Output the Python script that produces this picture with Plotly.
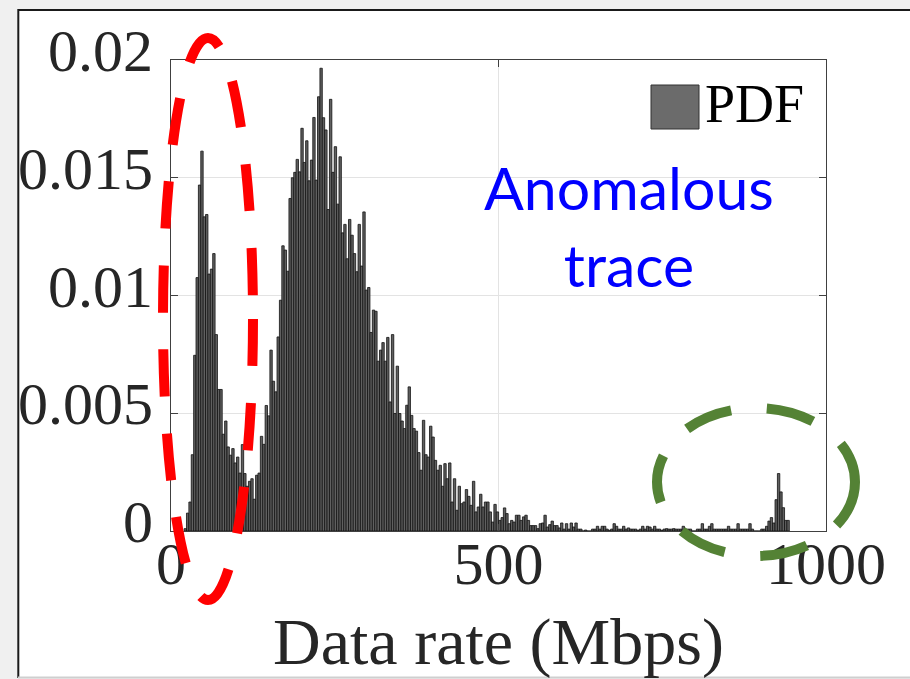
import plotly.graph_objects as go

# ---------------- data ----------------
RATE_START = 20.0   # Mbps, left edge of first bin
RATE_END = 944.0    # Mbps, right edge of last bin

pdf_values = [
    # 20 - 240 Mbps
    0.0001, 0.00076, 0.00123, 0.00324, 0.00746, 0.01076, 0.01469, 0.01613, 0.01334, 0.01344,
    0.01091, 0.01112, 0.01178, 0.00834, 0.00601, 0.00601, 0.00411, 0.00467, 0.00357, 0.00322,
    0.0035, 0.00289, 0.00314, 0.00246, 0.00367, 0.00244, 0.0019, 0.00211, 0.00222, 0.00135,
    0.00237, 0.00246, 0.00402, 0.00368, 0.00533, 0.00489, 0.00768, 0.00636, 0.00591, 0.00824,
    0.0098, 0.01211, 0.01193, 0.01103, 0.01412, 0.015, 0.01523, 0.01578, 0.01525, 0.0171,
    0.01565, 0.01657, 0.01487, 0.01575, 0.01756, 0.0149, 0.01844, 0.01965, 0.01755, 0.01703,
    # 240 - 500 Mbps
    0.01365, 0.01833, 0.01523, 0.01632, 0.01388, 0.01589, 0.01266, 0.01302, 0.01156, 0.01323,
    0.01256, 0.01178, 0.01101, 0.01302, 0.01125, 0.01355, 0.01023, 0.01034, 0.00843, 0.00938,
    0.00933, 0.00721, 0.00768, 0.008, 0.00721, 0.00822, 0.00548, 0.00834, 0.00499, 0.007,
    0.00499, 0.00467, 0.00435, 0.00534, 0.00612, 0.00491, 0.00435, 0.00424, 0.00333, 0.00258,
    0.0047, 0.00324, 0.00314, 0.00445, 0.00399, 0.003, 0.00258, 0.00279, 0.0019, 0.00286,
    0.00222, 0.00289, 0.00123, 0.00222, 0.00088, 0.0019, 0.00116, 0.00123, 0.00176, 0.00147,
    0.00109, 0.00211, 0.00081, 0.00102, 0.00156, 0.00102, 0.00123, 0.00123, 0.00081, 0.00038,
    0.00113, 0.00081,
    # 500 - 750 Mbps
    0.00045, 0.00057, 0.00098, 0.00074, 0.00031, 0.00045, 0.00038, 0.00067, 0.00067, 0.00045,
    0.0006, 0.00067, 0.00045, 0.00023, 0.00023, 0.00023, 0.0001, 0.00031, 0.00034, 0.00067,
    0.00017, 0.00027, 0.00042, 0.00023, 0.00023, 0.00013, 0.00034, 0.00008, 0.00031, 0.00008,
    0.00034, 0.00017, 0.00034, 0.00008, 0.00008, 0.0, 0.00004, 0.0, 0.0, 0.00008,
    0.00008, 0.0002, 0.00008, 0.0002, 0.0002, 0.00008, 0.00003, 0.00008, 0.00031, 0.0002,
    0.00008, 0.00008, 0.0002, 0.00008, 0.00013, 0.00008, 0.00008, 0.00008, 0.00003, 0.00008,
    0.0002, 0.00008, 0.0002, 0.00017, 0.00008, 0.0002, 0.00008,
    # 750 - 944 Mbps
    0.00008, 0.00003, 0.00008, 0.0001, 0.00008, 0.00008, 0.0001, 0.00008, 0.00008, 0.00008,
    0.0002, 0.00008, 0.00008, 0.00008, 0.0, 0.0, 0.00008, 0.00008, 0.00031, 0.00008,
    0.00008, 0.0002, 0.00031, 0.00008, 0.00008, 0.00008, 0.00008, 0.00008, 0.00008, 0.0002,
    0.00008, 0.00008, 0.00008, 0.00031, 0.00008, 0.00008, 0.00008, 0.00008, 0.00031, 0.00008,
    0.0, 0.0, 0.0, 0.00008, 0.00008, 0.0002, 0.00042, 0.00057, 0.00034, 0.00133,
    0.00244, 0.00166, 0.00099, 0.00045, 0.00045,
]

x_tick_vals = [0, 500, 1000]
x_tick_text = ["0", "500", "1000"]
y_tick_vals = [0, 0.005, 0.01, 0.015, 0.02]
y_tick_text = ["0", "0.005", "0.01", "0.015", "0.02"]
x_label = "Data rate (Mbps)"
legend_label = "PDF"
note_text = "Anomalous<br>trace"

# ---------------- figure ----------------
W, H = 910, 679
L, R, T, B = 171, 84, 60, 148
PW, PH = W - L - R, H - T - B


def px_x(px):
    return (px - L) / PW


def px_y(py):
    return (T + PH - py) / PH


n = len(pdf_values)
bin_w = (RATE_END - RATE_START) / n
centers = [RATE_START + (i + 0.5) * bin_w for i in range(n)]

fig = go.Figure(
    go.Bar(
        x=centers,
        y=pdf_values,
        width=bin_w,
        marker=dict(color="#606060", line=dict(color="#111111", width=0.8)),
        showlegend=False,
        hoverinfo="skip",
    )
)

serif = "Liberation Serif, Times New Roman, serif"
axis_col = "#404040"
text_col = "#262626"

shapes = [
    # white figure panel with frame
    dict(type="rect", xref="paper", yref="paper", layer="below",
         x0=px_x(19), x1=px_x(940), y0=px_y(10), y1=px_y(677),
         fillcolor="white", line=dict(width=0)),
    dict(type="line", xref="paper", yref="paper", layer="below",
         x0=px_x(18), x1=px_x(940), y0=px_y(10), y1=px_y(10),
         line=dict(color="#1a1a1a", width=2)),
    dict(type="line", xref="paper", yref="paper", layer="below",
         x0=px_x(18.3), x1=px_x(18.3), y0=px_y(9), y1=px_y(678),
         line=dict(color="#1a1a1a", width=2)),
    dict(type="line", xref="paper", yref="paper", layer="below",
         x0=px_x(18), x1=px_x(940), y0=px_y(677.5), y1=px_y(677.5),
         line=dict(color="#cfcfcf", width=2)),
    # legend swatch
    dict(type="rect", xref="paper", yref="paper", layer="above",
         x0=px_x(651), x1=px_x(699), y0=px_y(129), y1=px_y(85),
         fillcolor="#6b6b6b", line=dict(color="#333333", width=1)),
    # red dashed ellipse
    dict(type="circle", xref="paper", yref="paper", layer="above",
         x0=px_x(163), x1=px_x(253), y0=px_y(600), y1=px_y(38),
         line=dict(color="#ff0000", width=10, dash="47px,37px")),
    # green dashed ellipse
    dict(type="circle", xref="paper", yref="paper", layer="above",
         x0=px_x(657), x1=px_x(855), y0=px_y(556), y1=px_y(408),
         line=dict(color="#548235", width=10, dash="48px,36px")),
]

annotations = [
    dict(text=legend_label, xref="paper", yref="paper", x=px_x(703), y=px_y(104),
         xanchor="left", yanchor="middle", showarrow=False,
         font=dict(family=serif, size=54, color="black")),
    dict(text=note_text, xref="paper", yref="paper", x=px_x(628.5), y=px_y(226),
         xanchor="center", yanchor="middle", align="center", showarrow=False,
         font=dict(family="Lato, Calibri, sans-serif", size=59, color="#0000ff")),
]
# y tick labels placed against the y scale
for v, t in zip(y_tick_vals, y_tick_text):
    annotations.append(dict(
        text=t, xref="paper", yref="y", x=px_x(155), y=v,
        xanchor="right", yanchor="middle", yshift=9, showarrow=False,
        font=dict(family=serif, size=60, color=text_col)))

fig.update_layout(
    width=W, height=H,
    margin=dict(l=L, r=R, t=T, b=B, pad=0),
    paper_bgcolor="#f0f0f0",
    plot_bgcolor="white",
    bargap=0,
    shapes=shapes,
    annotations=annotations,
    xaxis=dict(
        range=[0, 1000], tickvals=x_tick_vals, ticktext=x_tick_text,
        showgrid=True, gridcolor="#e3e3e3", gridwidth=1, zeroline=False,
        showline=True, linecolor=axis_col, linewidth=1, mirror="ticks",
        ticks="inside", ticklen=7, tickcolor=axis_col, tickwidth=1,
        tickfont=dict(family=serif, size=60, color=text_col),
        ticklabelstandoff=-20,
        title=dict(text=x_label, font=dict(family=serif, size=66, color=text_col), standoff=24),
        automargin=False,
    ),
    yaxis=dict(
        range=[0, 0.02], tickvals=y_tick_vals, ticktext=y_tick_text,
        showticklabels=False,
        showgrid=True, gridcolor="#e3e3e3", gridwidth=1, zeroline=False,
        showline=True, linecolor=axis_col, linewidth=1, mirror="ticks",
        ticks="inside", ticklen=7, tickcolor=axis_col, tickwidth=1,
        automargin=False,
    ),
)

fig.write_html(
    "out.html",
    config={"displayModeBar": False, "staticPlot": True},
    post_script="document.body.style.margin='0px';document.body.style.overflow='hidden';",
)
